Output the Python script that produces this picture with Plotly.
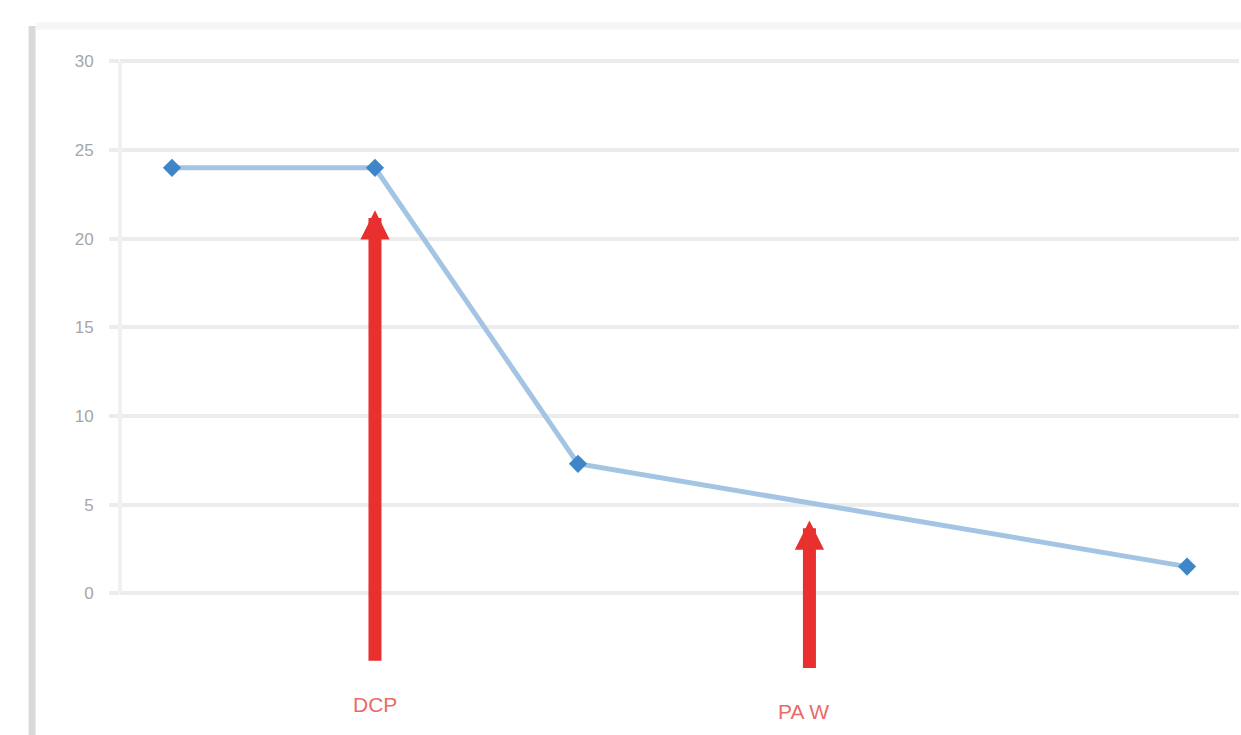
import plotly.graph_objects as go

# Series: values at the measured positions
x_pos = [0, 1, 2, 5]
y_val = [24.0, 24.0, 7.3, 1.5]

# Axis ticks
y_ticks = [0, 5, 10, 15, 20, 25, 30]
y_tick_text = ["0", "5", "10", "15", "20", "25", "30"]

# Marker arrows: x position, tail value, tip value, label
arrow_x = [1.0, 3.14]
arrow_tail = [-3.9, -4.3]
arrow_tip = [21.6, 4.1]
arrow_label = ["DCP", "PA W"]
label_y = [-6.3, -6.7]
label_x = [1.0, 3.11]

RED = "#e8302f"
BLUE_LINE = "#a3c4e3"
BLUE_MARK = "#3f86c8"
GRID = "#ececec"

fig = go.Figure()

fig.add_trace(go.Scatter(
    x=x_pos, y=y_val, mode="lines+markers",
    line=dict(color=BLUE_LINE, width=5),
    marker=dict(symbol="diamond", size=14, color=BLUE_MARK),
    showlegend=False, hoverinfo="skip",
))

annotations = []
for ax_, tail, tip in zip(arrow_x, arrow_tail, arrow_tip):
    annotations.append(dict(
        x=ax_, y=tip, ax=ax_, ay=tail, xref="x", yref="y", axref="x", ayref="y",
        text="", showarrow=True, arrowhead=2, arrowsize=0.45, arrowwidth=13,
        arrowcolor=RED, standoff=0, startstandoff=0,
    ))
for lx, ly, txt in zip(label_x, label_y, arrow_label):
    annotations.append(dict(
        x=lx, y=ly, xref="x", yref="y", text=txt, showarrow=False,
        font=dict(family="Liberation Sans, Arial", size=21, color="#ec6a68"),
    ))

# Frame lines around the chart (left edge and top edge), plus the value axis line
x_left = -0.256
x_right = 5.256
shapes = [
    dict(type="line", xref="paper", yref="paper",
         x0=(32 - 120) / 1120, x1=(32 - 120) / 1120, y0=-0.02, y1=1.0,
         line=dict(color="#d9d9d9", width=7)),
    dict(type="line", xref="paper", yref="paper",
         x0=(36 - 120) / 1120, x1=1.02, y0=1.0, y1=1.0,
         line=dict(color="#f6f6f6", width=7)),
    dict(type="line", xref="paper", yref="y",
         x0=0, x1=0, y0=y_ticks[0], y1=y_ticks[-1],
         line=dict(color="#f0f0f0", width=4)),
]

fig.update_layout(
    width=1241, height=735,
    margin=dict(l=120, r=2, t=26, b=0),
    paper_bgcolor="white", plot_bgcolor="white",
    annotations=annotations, shapes=shapes,
    xaxis=dict(range=[x_left, x_right], showgrid=False, zeroline=False,
               showticklabels=False, showline=False, ticks=""),
    yaxis=dict(range=[-8, 32], tickvals=y_ticks, ticktext=y_tick_text,
               showgrid=True, gridcolor=GRID, gridwidth=4, zeroline=False,
               ticks="outside", ticklen=10, tickcolor=GRID, tickwidth=4,
               ticklabelstandoff=12, showline=False,
               tickfont=dict(family="Liberation Sans, Arial", size=17, color="#a6a6a6")),
)

fig.write_html("out.html")
